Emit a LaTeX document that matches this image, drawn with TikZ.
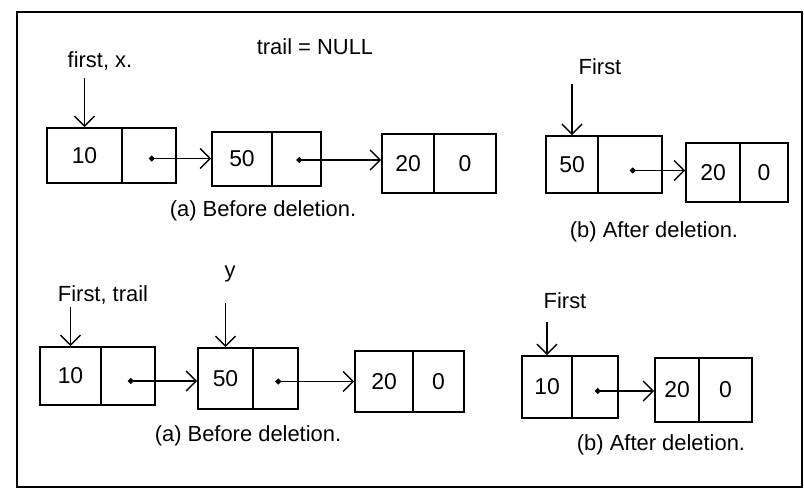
\documentclass[tikz,border=0pt]{standalone}
\usepackage{fontspec}
\setmainfont{Liberation Sans}
\usetikzlibrary{arrows.meta}
\begin{document}
\begin{tikzpicture}[x=1bp,y=-1bp,
  cell/.style={draw,line width=1.6bp,inner sep=0pt,font=\fontsize{23}{26}\selectfont},
  lbl/.style={inner sep=1bp,font=\fontsize{22}{26}\selectfont},
  link/.style={line width=1.6bp,{Circle[length=5.5bp]}-{Straight Barb[length=10bp,width=20bp,line width=1.5bp]}},
  ptr/.style={line width=1.6bp,-{Straight Barb[length=10bp,width=20bp,line width=1.5bp]}}]
\useasboundingbox (0,0) rectangle (804,493);
\draw[line width=1.8bp] (17,12) rectangle (802,487);
% top left list
\node[cell,minimum width=75bp,minimum height=55bp] (a1d) at (84.5,155.5) {10};
\node[cell,minimum width=54bp,minimum height=55bp] (a1p) at (149,155.5) {};
\node[cell,minimum width=60bp,minimum height=54bp] (a2d) at (242,159) {50};
\node[cell,minimum width=49bp,minimum height=54bp] (a2p) at (296.5,159) {};
\node[cell,minimum width=52bp,minimum height=59bp] (a3d) at (408,163.5) {20};
\node[cell,minimum width=62bp,minimum height=59bp] (a3p) at (465,163.5) {0};
\coordinate (a1s) at ([yshift=-3bp]a1p.center);
\coordinate (a2s) at ([yshift=-1bp]a2p.center);
\draw[link] (a1s) -- (a1s -| a2d.west);
\draw[link] (a2s) -- (a2s -| a3d.west);
\node[lbl] (fx) at (100,61) {first, x.};
\draw[ptr] ([yshift=-6bp]fx.south -| a1d.north) -- (a1d.north);
\node[lbl] (tn) at (315,47) {trail = NULL};
\node[lbl] (capa1) at (263,211) {(a) Before deletion.};
% top right list
\node[cell,minimum width=52bp,minimum height=57bp] (b1d) at (572,164.5) {50};
\node[cell,minimum width=64bp,minimum height=57bp] (b1p) at (630,164.5) {};
\node[cell,minimum width=54bp,minimum height=59bp] (b2d) at (713,172.5) {20};
\node[cell,minimum width=48bp,minimum height=59bp] (b2p) at (764,172.5) {0};
\coordinate (b1s) at ([yshift=-6bp]b1p.center);
\draw[link] (b1s) -- (b1s -| b2d.west);
\node[lbl] (f1) at (600,67) {First};
\draw[ptr] ([yshift=-8bp]f1.south -| b1d.north) -- (b1d.north);
\node[lbl] (capb1) at (654,232) {(b) After deletion.};
% bottom left list
\node[cell,minimum width=61bp,minimum height=58bp] (c1d) at (70.5,376) {10};
\node[cell,minimum width=54bp,minimum height=58bp] (c1p) at (128,376) {};
\node[cell,minimum width=55bp,minimum height=61bp] (c2d) at (225.5,378.5) {50};
\node[cell,minimum width=45bp,minimum height=61bp] (c2p) at (275.5,378.5) {};
\node[cell,minimum width=58bp,minimum height=61bp] (c3d) at (384,381.5) {20};
\node[cell,minimum width=51bp,minimum height=61bp] (c3p) at (438.5,381.5) {0};
\coordinate (c1s) at ([yshift=-5bp]c1p.center);
\coordinate (c2s) at ([yshift=-3bp]c2p.center);
\draw[link] (c1s) -- (c1s -| c2d.west);
\draw[link] (c2s) -- (c2s -| c3d.west);
\node[lbl] (ft) at (103,295) {First, trail};
\draw[ptr] ([yshift=-1bp]ft.south -| c1d.north) -- (c1d.north);
\node[lbl] (yy) at (230,274) {y};
\draw[ptr] ([yshift=-20bp]yy.south -| c2d.north) -- (c2d.north);
\node[lbl] (capa2) at (248,436) {(a) Before deletion.};
% bottom right list
\node[cell,minimum width=50bp,minimum height=62bp] (d1d) at (547,387) {10};
\node[cell,minimum width=46bp,minimum height=62bp] (d1p) at (595,387) {};
\node[cell,minimum width=44bp,minimum height=64bp] (d2d) at (677,390) {20};
\node[cell,minimum width=53bp,minimum height=64bp] (d2p) at (725.5,390) {0};
\coordinate (d1s) at ([yshift=-4bp]d1p.center);
\draw[link] (d1s) -- (d1s -| d2d.west);
\node[lbl] (f2) at (565,301) {First};
\draw[ptr] ([yshift=-12bp]f2.south -| d1d.north) -- (d1d.north);
\node[lbl] (capb2) at (661,445) {(b) After deletion.};
\end{tikzpicture}
\end{document}
